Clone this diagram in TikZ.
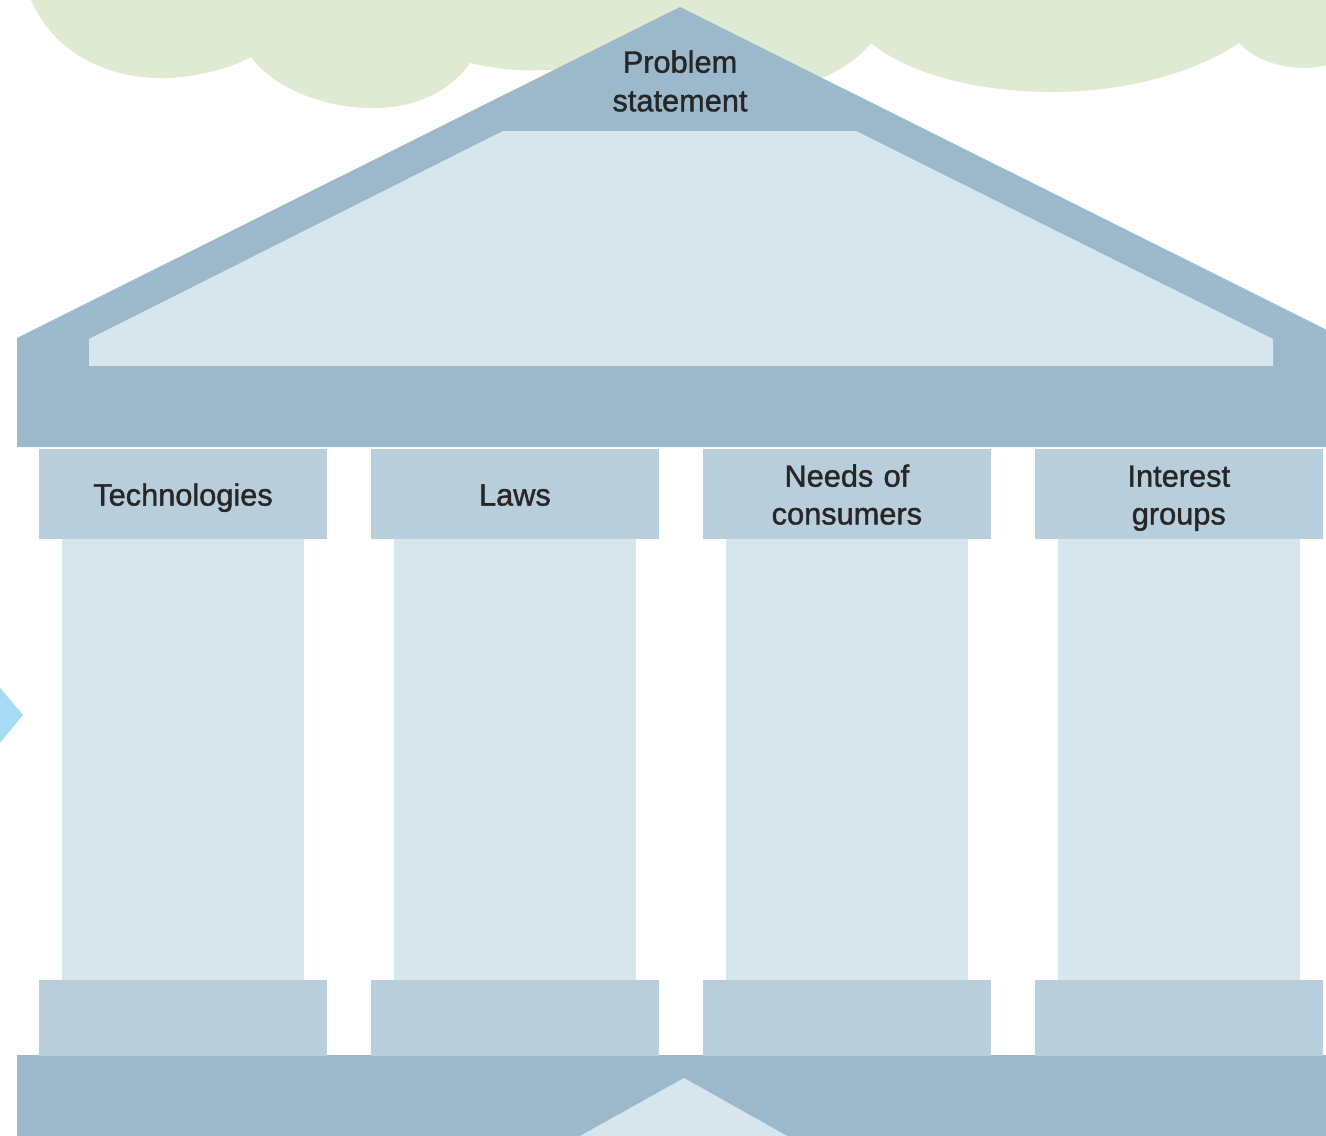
\documentclass[tikz,border=0pt]{standalone}
\usepackage{fontspec}
\newfontfamily\templefont{Liberation Sans}[FakeBold=1.3]
\definecolor{roofblue}{HTML}{9BB9CA}
\definecolor{capblue}{HTML}{B8CEDA}
\definecolor{paleblue}{HTML}{D7E5EC}
\definecolor{cloudgreen}{HTML}{DFEAD3}
\definecolor{arrowblue}{HTML}{A6DBF6}
\definecolor{inkgrey}{HTML}{262626}
\tikzstyle{capital} = [rectangle, fill=capblue, minimum width=5.76cm, minimum height=1.8cm, inner sep=0pt, text width=5.2cm, align=center, text=inkgrey, font=\templefont\fontsize{17.5}{21.5}\selectfont, execute at begin node=\rule{0pt}{19.6pt}, execute at end node=\strut]
\tikzstyle{shaft} = [rectangle, fill=paleblue, minimum width=4.84cm, minimum height=8.82cm, inner sep=0pt]
\tikzstyle{plinth} = [rectangle, fill=capblue, minimum width=5.76cm, minimum height=1.52cm, inner sep=0pt]
\tikzstyle{gable} = [align=center, text=inkgrey, font=\templefont\fontsize{17.5}{22}\selectfont]

\begin{document}
\begin{tikzpicture}[x=0.02cm, y=-0.02cm, node distance=6.64cm]

\path[use as bounding box] (0,0) rectangle (1326,1136);
\clip (0,0) rectangle (1326,1136);

% cloud behind the roof
\fill[cloudgreen] (20,-20) -- (31,0) .. controls (55,55) and (110,80) .. (169,78)
  .. controls (205,76) and (235,66) .. (251,57)
  .. controls (275,90) and (330,110) .. (380,108)
  .. controls (425,106) and (455,85) .. (470,63)
  .. controls (500,70) and (520,71) .. (545,70)
  .. controls (650,68) and (760,100) .. (822,78)
  .. controls (845,68) and (862,55) .. (871,43)
  .. controls (910,75) and (980,92) .. (1053,92)
  .. controls (1130,92) and (1200,70) .. (1239,43)
  .. controls (1255,60) and (1280,68) .. (1306,68)
  .. controls (1315,68) and (1322,66) .. (1340,63) -- (1340,-20) -- cycle;

% arrow tip at the left edge
\fill[arrowblue] (-10,676) -- (23,715) -- (-10,755) -- cycle;

% roof and entablature
\fill[roofblue] (680,7) -- (1343,338) -- (1343,447) -- (17,447) -- (17,338) -- cycle;
\fill[paleblue] (503,131) -- (856,131) -- (1273,339) -- (1273,366) -- (89,366) -- (89,339) -- cycle;
\node (problem) [gable] at (680,81) {Problem\\statement};

% stylobate
\fill[roofblue] (17,1055) rectangle (1343,1146);
\fill[paleblue] (562,1146) -- (684,1078) -- (805,1146) -- cycle;

% columns
\node (capTech) [capital] at (183,494) {Technologies};
\node (capLaws) [capital, right of=capTech] {Laws};
\node (capNeeds) [capital, right of=capLaws] {Needs of\\consumers};
\node (capGroups) [capital, right of=capNeeds] {Interest\\groups};

\node (shaftTech) [shaft, below of=capTech, node distance=5.31cm] {};
\node (shaftLaws) [shaft, below of=capLaws, node distance=5.31cm] {};
\node (shaftNeeds) [shaft, below of=capNeeds, node distance=5.31cm] {};
\node (shaftGroups) [shaft, below of=capGroups, node distance=5.31cm] {};

\node (baseTech) [plinth, below of=shaftTech, node distance=5.17cm] {};
\node (baseLaws) [plinth, below of=shaftLaws, node distance=5.17cm] {};
\node (baseNeeds) [plinth, below of=shaftNeeds, node distance=5.17cm] {};
\node (baseGroups) [plinth, below of=shaftGroups, node distance=5.17cm] {};

\end{tikzpicture}
\end{document}
